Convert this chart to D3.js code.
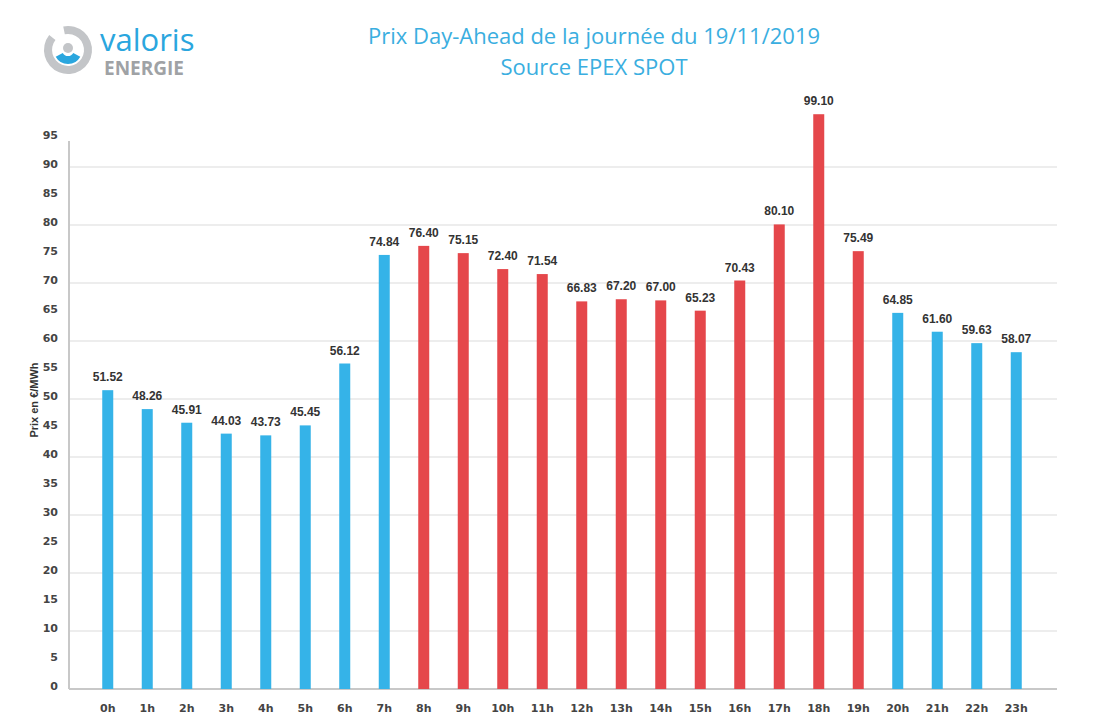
<!DOCTYPE html>
<html><head><meta charset="utf-8">
<script src="https://cdn.jsdelivr.net/npm/d3@7"></script>
<style>body{margin:0;background:#fff}</style>
</head><body>
<svg id="c" width="1095" height="725"></svg>
<script>
const hours = d3.range(24).map(h => h + "h");
const prices = [51.52,48.26,45.91,44.03,43.73,45.45,56.12,74.84,76.40,75.15,72.40,71.54,66.83,67.20,67.00,65.23,70.43,80.10,99.10,75.49,64.85,61.60,59.63,58.07];
const peak = [0,0,0,0,0,0,0,0,1,1,1,1,1,1,1,1,1,1,1,1,0,0,0,0];
const yTicks = d3.range(0, 100, 5);
const gridTicks = d3.range(10, 100, 10);

const svg = d3.select("#c");
const x = d3.scaleBand().domain(hours).range([88, 1036]);
const y = d3.scaleLinear().domain([0, 90]).range([689, 167]);
const barW = 11;

// logo
const logo = svg.append("g").attr("transform", "translate(68,50)");
logo.append("path").attr("fill", "#c3c5c8")
  .attr("d", d3.arc().innerRadius(16).outerRadius(24).startAngle(-0.2).endAngle(Math.PI * 2 - 0.9)());
logo.append("path").attr("fill", "#2aa6de")
  .attr("d", d3.arc().innerRadius(6).outerRadius(14).startAngle(Math.PI / 2 + 0.5).endAngle(Math.PI * 1.5 - 0.5)());
logo.append("circle").attr("cx", 0).attr("cy", -2).attr("r", 5).attr("fill", "#c3c5c8");
svg.append("text").attr("x", 100).attr("y", 51).attr("fill", "#2aa6de")
  .style("font", "31px 'Open Sans', sans-serif").text("valoris");
svg.append("text").attr("x", 104).attr("y", 75).attr("fill", "#9fa2a5")
  .style("font", "bold 19px 'Open Sans', sans-serif").text("ENERGIE");

// title
const title = svg.append("text").attr("text-anchor", "middle").attr("fill", "#3aaee0")
  .style("font", "22px 'Open Sans', sans-serif");
title.append("tspan").attr("x", 594).attr("y", 44).text("Prix Day-Ahead de la journée du 19/11/2019");
title.append("tspan").attr("x", 594).attr("y", 75).text("Source EPEX SPOT");

// grid
svg.selectAll(".grid").data(gridTicks).join("line")
  .attr("x1", 69).attr("x2", 1057).attr("y1", d => y(d)).attr("y2", d => y(d))
  .attr("stroke", "#dcdcdc").attr("stroke-width", 1.2);
svg.append("line").attr("x1", 69).attr("x2", 1057).attr("y1", y(0)).attr("y2", y(0))
  .attr("stroke", "#c8c8c8").attr("stroke-width", 2);
svg.append("line").attr("x1", 69).attr("x2", 69).attr("y1", 141).attr("y2", y(0))
  .attr("stroke", "#c8c8c8").attr("stroke-width", 2);

// y tick labels
svg.selectAll(".yt").data(yTicks).join("text")
  .attr("x", 58).attr("y", d => y(d) + 1).attr("text-anchor", "end")
  .attr("fill", "#444").style("font", "bold 11px 'DejaVu Sans', sans-serif").text(d => d);

svg.append("text").attr("transform", "translate(38,400) rotate(-90)").attr("text-anchor", "middle")
  .attr("fill", "#333").style("font", "bold 11px 'Liberation Sans', sans-serif").text("Prix en €/MWh");

// bars
svg.selectAll(".bar").data(prices).join("rect")
  .attr("x", (d, i) => x(hours[i]) + x.bandwidth() / 2 - barW / 2)
  .attr("width", barW)
  .attr("y", d => y(d)).attr("height", d => y(0) - y(d))
  .attr("fill", (d, i) => peak[i] ? "#e5474b" : "#35b3e8");

svg.selectAll(".val").data(prices).join("text")
  .attr("x", (d, i) => x(hours[i]) + x.bandwidth() / 2).attr("y", d => y(d) - 9)
  .attr("text-anchor", "middle").attr("fill", "#333")
  .style("font", "bold 12px 'Liberation Sans', sans-serif").text(d => d.toFixed(2));

svg.selectAll(".xl").data(hours).join("text")
  .attr("x", d => x(d) + x.bandwidth() / 2).attr("y", 712)
  .attr("text-anchor", "middle").attr("fill", "#444")
  .style("font", "bold 11px 'DejaVu Sans', sans-serif").text(d => d);
</script>
</body></html>
